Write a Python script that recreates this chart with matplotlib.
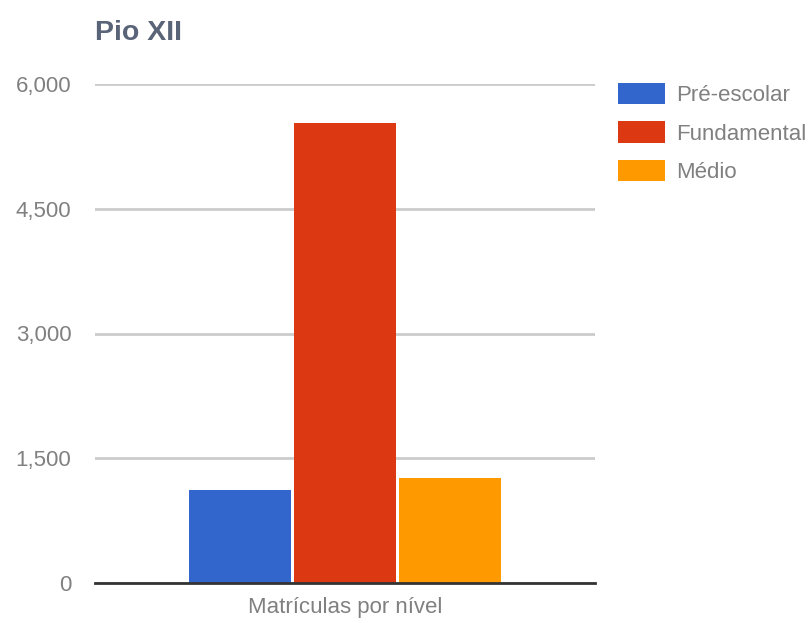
import numpy as np
import matplotlib.pyplot as plt

plt.rcParams['font.family'] = ['Liberation Sans', 'DejaVu Sans']

title = "Pio XII"
category = "Matrículas por nível"
series = ["Pré-escolar", "Fundamental", "Médio"]
values = [1118, 5535, 1268]
colors = ["#3366cc", "#dc3912", "#ff9900"]
yticks = [0, 1500, 3000, 4500, 6000]

fig = plt.figure(figsize=(8.08, 6.23), dpi=100)
ax = fig.add_axes([95 / 808, 40 / 623, 500 / 808, 499 / 623])

width = 0.204
step = 0.21
offsets = (np.arange(len(series)) - 1) * step
for off, val, col, name in zip(offsets, values, colors, series):
    ax.bar(off, val, width=width, color=col, label=name, zorder=3)

ax.set_xlim(-0.5, 0.5)
ax.set_ylim(0, 6000)
ax.set_yticks(yticks)
ax.set_yticklabels([f"{v:,}" for v in yticks])
ax.set_xticks([])
ax.grid(axis='y', color='#cccccc', linewidth=2, zorder=0)
for s in ['top', 'right', 'left']:
    ax.spines[s].set_visible(False)
ax.spines['bottom'].set_color('#333333')
ax.spines['bottom'].set_linewidth(2)
ax.spines['bottom'].set_zorder(4)
ax.tick_params(axis='y', length=0, pad=17, labelsize=16, labelcolor='#808080')
ax.set_xlabel(category, fontsize=16, color='#808080', labelpad=10)

fig.text(95 / 808, 1 - 33 / 623, title, fontsize=20.5, fontweight='bold',
         color='#5a6478', va='center', ha='left')

leg = fig.legend(*ax.get_legend_handles_labels(), loc='upper left',
                 bbox_to_anchor=(618 / 808, 1 - 83 / 623), frameon=False,
                 fontsize=16, labelcolor='#808080', handlelength=2.1,
                 handleheight=1.1, handletextpad=0.5, labelspacing=0.68,
                 borderpad=0, borderaxespad=0)

fig.savefig("out.png", dpi=100)
